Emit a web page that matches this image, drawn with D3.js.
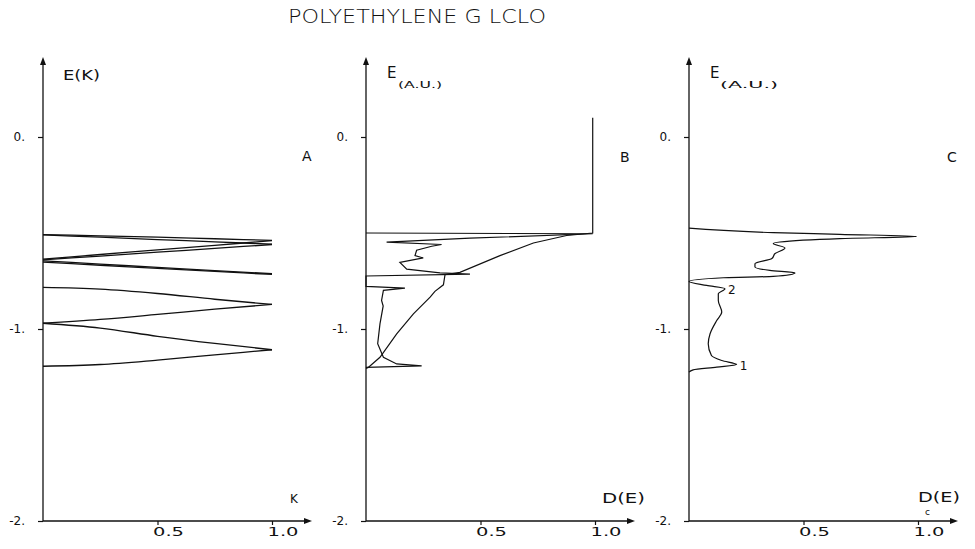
<!DOCTYPE html>
<html><head><meta charset="utf-8">
<script src="https://cdn.jsdelivr.net/npm/d3@7"></script>
<style>
body{margin:0;background:#fff}
svg text{font-family:"DejaVu Sans",sans-serif;fill:#111}
</style>
</head><body>
<svg id="chart" width="975" height="549"></svg>
<script>
// ---------- data ----------
const title = "POLYETHYLENE G LCLO";
const panelLetters = ["A", "B", "C"];
const yTicks = [0, -1, -2];
const yTickLabels = ["0.", "-1.", "-2."];
const xTicks = [0.5, 1.0];
const xTickLabels = ["0.5", "1.0"];

// Panel A: band structure E(k), k in [0,1]
const kGrid = [0, 0.25, 0.5, 0.75, 1];
const band1  = [-0.508, -0.515, -0.522, -0.530, -0.538];
const band2  = [-0.510, -0.522, -0.534, -0.546, -0.558];
const band3  = [-0.636, -0.612, -0.588, -0.564, -0.540];
const band4  = [-0.640, -0.620, -0.600, -0.580, -0.560];
const band5  = [-0.645, -0.662, -0.679, -0.696, -0.712];
const band6  = [-0.652, -0.668, -0.684, -0.700, -0.716];
const band7  = [-0.783, -0.792, -0.815, -0.845, -0.872];
const band8  = [-0.970, -0.950, -0.924, -0.897, -0.872];
const band9  = [-0.970, -0.995, -1.038, -1.075, -1.108];
const band10 = [-1.194, -1.185, -1.162, -1.135, -1.108];
const bandsA = [band1, band2, band3, band4, band5, band6, band7, band8, band9, band10];

// Panel B: density of states D(E) and its integral
const dosB_E = [-0.500, -0.504, -0.527, -0.548, -0.560, -0.569, -0.590, -0.618, -0.630, -0.653, -0.688, -0.708, -0.714, -0.724,
                -0.778, -0.787, -0.799, -0.851, -0.880, -0.973, -1.077, -1.147, -1.182, -1.192, -1.200];
const dosB_D = [0.000, 0.990, 0.454, 0.090, 0.330, 0.287, 0.221, 0.214, 0.250, 0.148, 0.178, 0.323, 0.454, 0.000,
                0.000, 0.170, 0.076, 0.068, 0.075, 0.061, 0.051, 0.076, 0.134, 0.243, 0.000];
const intB_E = [0.100, -0.500, -0.513, -0.552, -0.618, -0.705, -0.717, -0.770, -0.804, -0.834, -0.921, -1.025, -1.147, -1.200, -1.205];
const intB_D = [0.990, 0.990, 0.876, 0.731, 0.585, 0.410, 0.345, 0.338, 0.301, 0.280, 0.207, 0.134, 0.061, 0.010, 0.000];

// Panel C: convoluted density of states
const dosC_E = [-0.475, -0.498, -0.507, -0.518, -0.529, -0.547, -0.555, -0.578, -0.607, -0.633, -0.660, -0.677, -0.695, -0.708,
                -0.726, -0.733, -0.752, -0.773, -0.790, -0.816, -0.851, -0.912, -0.956, -1.025, -1.077, -1.138, -1.164,
                -1.185, -1.199, -1.213, -1.225];
const dosC_D = [0.000, 0.368, 0.659, 0.994, 0.659, 0.397, 0.368, 0.419, 0.376, 0.362, 0.288, 0.288, 0.353, 0.463,
                0.368, 0.150, 0.000, 0.077, 0.157, 0.128, 0.128, 0.143, 0.121, 0.092, 0.084, 0.098, 0.143,
                0.208, 0.121, 0.018, 0.000];
const peakLabels = [{t: "2", E: -0.790, D: 0.157}, {t: "1", E: -1.185, D: 0.208}];

// ---------- layout ----------
const svg = d3.select("#chart");
const axisX0 = [43, 366, 689];
const unitW = 229;
const y = d3.scaleLinear().domain([-2, 0]).range([521, 137]);
const yTop = 57;
const ink = "#111";

svg.append("text").attr("x", 288).attr("y", 23).attr("font-size", 20)
  .attr("textLength", 258).attr("lengthAdjust", "spacingAndGlyphs").attr("font-weight", 300).text(title);

const xs = axisX0.map(x0 => d3.scaleLinear().domain([0, 1]).range([x0, x0 + unitW]));

function drawAxes(i) {
  const x = xs[i], x0 = axisX0[i];
  const g = svg.append("g");
  const xEnd = x0 + 269;
  g.append("line").attr("x1", x0).attr("x2", x0).attr("y1", y(-2)).attr("y2", yTop + 6)
    .attr("stroke", ink).attr("stroke-width", 1.3);
  g.append("path").attr("d", `M${x0},${yTop} L${x0 - 3},${yTop + 8} L${x0 + 3},${yTop + 8} Z`).attr("fill", ink);
  g.append("line").attr("x1", x0).attr("x2", xEnd - 6).attr("y1", y(-2)).attr("y2", y(-2))
    .attr("stroke", ink).attr("stroke-width", 1.3);
  g.append("path").attr("d", `M${xEnd},${y(-2)} L${xEnd - 8},${y(-2) - 3} L${xEnd - 8},${y(-2) + 3} Z`).attr("fill", ink);

  const ya = d3.axisLeft(y).tickValues(yTicks).tickSize(5).tickPadding(13)
    .tickFormat((d, j) => yTickLabels[j]);
  const gy = g.append("g").attr("transform", `translate(${x0},0)`).call(ya);
  gy.select(".domain").remove();
  gy.selectAll("line").attr("stroke", ink).attr("stroke-width", 1.2);
  gy.selectAll("text").attr("font-size", 12).attr("font-family", "DejaVu Sans").attr("fill", ink);

  const xa = d3.axisBottom(x).tickValues(xTicks).tickSize(4).tickFormat((d, j) => xTickLabels[j]);
  const gx = g.append("g").attr("transform", `translate(0,${y(-2)})`).call(xa);
  gx.select(".domain").remove();
  gx.selectAll("line").attr("stroke", ink).attr("stroke-width", 1.2);
  gx.selectAll("text").attr("font-size", 13).attr("font-family", "DejaVu Sans").attr("fill", ink)
    .attr("text-anchor", "start").attr("x", -5).attr("y", 15).attr("dy", null)
    .attr("textLength", 31).attr("lengthAdjust", "spacingAndGlyphs");
}
[0, 1, 2].forEach(drawAxes);

// ---------- panel labels ----------
function txt(x, yy, s, size, len) {
  const t = svg.append("text").attr("x", x).attr("y", yy).attr("font-size", size).text(s);
  if (len) t.attr("textLength", len).attr("lengthAdjust", "spacingAndGlyphs");
  return t;
}
txt(63, 80, "E(K)", 14, 37);
txt(387, 78, "E", 15);
txt(398, 88, "(A.U.)", 9, 44);
txt(710, 78, "E", 15);
txt(720, 88, "(A.U.)", 9, 58);
txt(302, 161, panelLetters[0], 14);
txt(620, 162, panelLetters[1], 14);
txt(947, 162, panelLetters[2], 14);
txt(290, 503, "K", 12);
txt(602, 503, "D(E)", 14, 43);
txt(918, 502, "D(E)", 14, 42);
txt(925, 515, "c", 9);

// ---------- panel A bands ----------
const lineA = d3.line().x((d, j) => xs[0](kGrid[j])).y(d => y(d)).curve(d3.curveMonotoneX);
svg.append("g").selectAll("path").data(bandsA).join("path")
  .attr("d", lineA).attr("fill", "none").attr("stroke", ink).attr("stroke-width", 1.3);

// ---------- panel B ----------
const lineB = d3.line().x(d => xs[1](d[0])).y(d => y(d[1]));
svg.append("path").datum(dosB_D.map((d, j) => [d, dosB_E[j]]))
  .attr("d", lineB).attr("fill", "none").attr("stroke", ink).attr("stroke-width", 1.2);
svg.append("path").datum(intB_D.map((d, j) => [d, intB_E[j]]))
  .attr("d", lineB).attr("fill", "none").attr("stroke", ink).attr("stroke-width", 1.2);

// ---------- panel C ----------
const lineC = d3.line().x(d => xs[2](d[0])).y(d => y(d[1])).curve(d3.curveMonotoneY);
svg.append("path").datum(dosC_D.map((d, j) => [d, dosC_E[j]]))
  .attr("d", lineC).attr("fill", "none").attr("stroke", ink).attr("stroke-width", 1.2);
svg.append("g").selectAll("text").data(peakLabels).join("text")
  .attr("x", d => xs[2](d.D) + 3).attr("y", d => y(d.E) + 5).attr("font-size", 12).text(d => d.t);
</script>
</body></html>
